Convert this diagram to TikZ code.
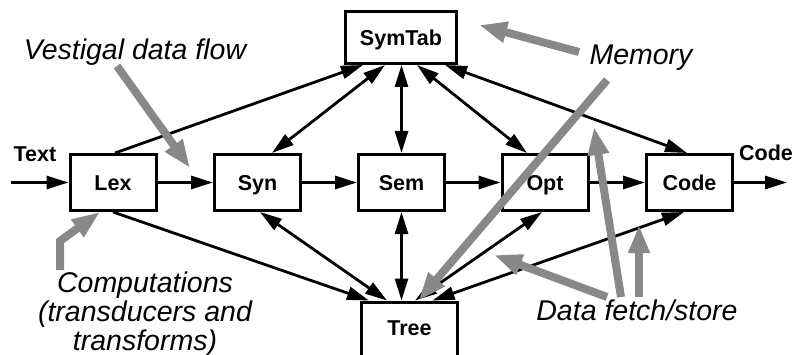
\documentclass[tikz,border=0pt]{standalone}
\usepackage{fontspec}
\setmainfont{Liberation Sans}
\usetikzlibrary{arrows.meta}
\definecolor{notegray}{RGB}{136,136,136}

\begin{document}
\begin{tikzpicture}[
  x=1pt, y=-1pt,
  phase/.style = {shape=rectangle, draw, line width=3pt,
    minimum width=86pt, minimum height=56pt,
    text height=15.5pt, text depth=0pt,
    font=\fontsize{21.5}{24}\selectfont\bfseries},
  tag/.style = {font=\fontsize{21.5}{24}\selectfont\bfseries},
  flow/.style = {line width=2.8pt, >={Triangle[length=22pt,width=13pt]}},
  note/.style = {align=center, font=\fontsize{28.5}{29}\selectfont\itshape},
  pointer/.style = {draw=notegray, line width=8pt, miter limit=4,
    -{Triangle[length=28pt,width=20pt]}}
  ]
  \useasboundingbox (0,0) rectangle (794,355);
  % the phases
  \node[phase] (Lex) at (113,182.5) {Lex};
  \node[phase] (Syn) at (257.5,182.5) {Syn};
  \node[phase] (Sem) at (401.5,182.5) {Sem};
  \node[phase] (Opt) at (545,182.5) {Opt};
  \node[phase] (Code) at (689.5,182.5) {Code};
  % the shared stores
  \node[phase, minimum width=111pt, minimum height=52pt] (SymTab) at (401,37.5) {SymTab};
  \node[phase, minimum width=96pt, minimum height=62pt, text depth=10pt,
    anchor=north] (Tree) at (409.5,300.5) {Tree};
  % input and output
  \node[tag] (txt) at (35,154) {Text};
  \node[tag] (out) at (766,153) {Code};
  \coordinate (in) at (11,182.5);
  \coordinate (end) at (787,182.5);

  % main data flow
  \draw[flow,->] (in) -- (Lex);
  \foreach \a/\b in {Lex/Syn, Syn/Sem, Sem/Opt, Opt/Code}
    \draw[flow,->] (\a) -- (\b);
  \draw[flow,->] (Code) -- (end);

  % symbol table access
  \draw[flow,->] ([xshift=2pt]Lex.north) -- ([xshift=-38pt]SymTab.south);
  \draw[flow,<->] ([xshift=14.5pt]Syn.north) -- ([xshift=-16pt]SymTab.south);
  \draw[flow,<->] (Sem.north) -- (Sem.north |- SymTab.south);
  \draw[flow,<->] ([xshift=-18pt]Opt.north) -- ([xshift=16pt]SymTab.south);
  \draw[flow,<->] ([xshift=-2.5pt]Code.north) -- ([xshift=44pt]SymTab.south);

  % tree access
  \draw[flow,->] (Lex.south) -- ([xshift=-40.5pt]Tree.north);
  \draw[flow,<->] ([xshift=2.5pt]Syn.south) -- ([xshift=-22.5pt]Tree.north);
  \draw[flow,<->] (Sem.south) -- (Sem.south |- Tree.north);
  \draw[flow,<->] ([xshift=5.5pt]Tree.north) -- ([xshift=-3pt]Opt.south);
  \draw[flow,<->] ([xshift=23pt]Tree.north) -- ([xshift=-5.5pt]Code.south);

  % annotations
  \node[note, anchor=base] (vestigal) at (135,60) {Vestigal data flow};
  \node[note, anchor=base] (memory) at (641,65) {Memory};
  \node[note, anchor=base] (comp) at (145,350) {Computations\\(transducers and\\transforms)};
  \node[note, anchor=base] (fetch) at (637,320) {Data fetch/store};

  \coordinate (vest from) at (117,66);
  \coordinate (vest to) at (190,168);
  \coordinate (mem from a) at (579,52);
  \coordinate (mem to a) at (479,25);
  \coordinate (mem from b) at (607,80);
  \coordinate (comp from) at (60,270);
  \coordinate (comp bend) at (60,241);
  \coordinate (fetch from a) at (607,297);
  \coordinate (fetch to a) at (494,255);
  \coordinate (fetch from b) at (621,297);
  \coordinate (fetch to b) at (594,127);
  \coordinate (fetch from c) at (639,297);
  \coordinate (fetch to c) at (639,225);

  \draw[pointer] (vest from) -- (vest to);
  \draw[pointer] (mem from a) -- (mem to a);
  \draw[pointer] (mem from b) -- ([xshift=9pt]Tree.north);
  \draw[pointer] (comp from) -- (comp bend) -- ([xshift=-13pt]Lex.south);
  \draw[pointer] (fetch from a) -- (fetch to a);
  \draw[pointer] (fetch from b) -- (fetch to b);
  \draw[pointer] (fetch from c) -- (fetch to c);
\end{tikzpicture}
\end{document}
